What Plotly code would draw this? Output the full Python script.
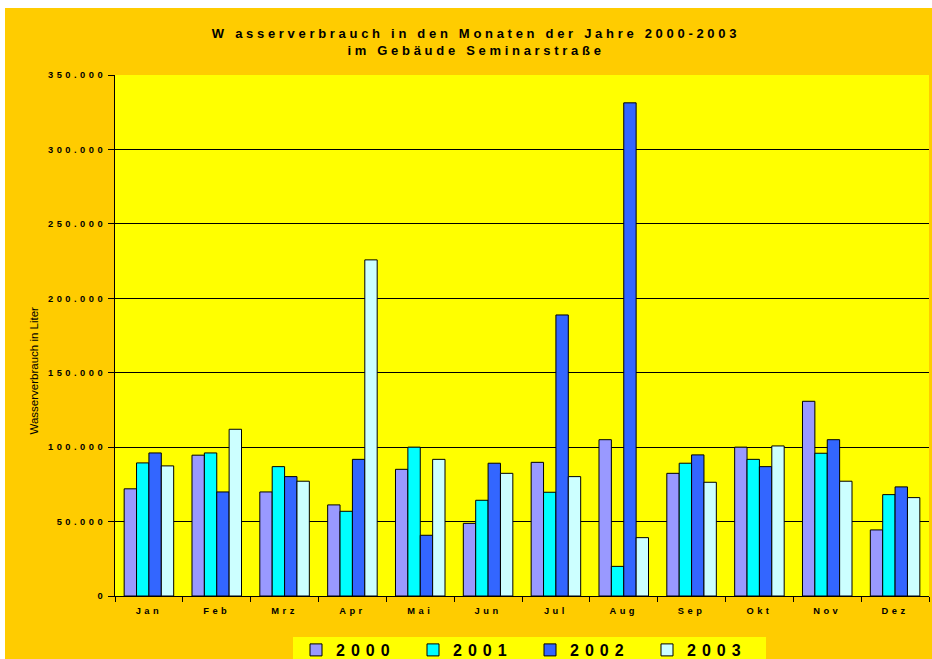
import plotly.graph_objects as go

months = ["Jan", "Feb", "Mrz", "Apr", "Mai", "Jun", "Jul", "Aug", "Sep", "Okt", "Nov", "Dez"]
years = ["2000", "2001", "2002", "2003"]
v2000 = [72000, 94600, 69900, 61200, 85100, 48800, 89800, 105000, 82400, 100000, 130800, 44400]
v2001 = [89400, 96100, 86900, 56900, 100000, 64300, 69700, 19900, 89200, 91800, 95900, 68100]
v2002 = [96100, 69900, 80200, 91800, 40800, 89200, 188800, 331300, 94800, 86900, 105000, 73300]
v2003 = [87400, 112000, 77100, 225800, 91800, 82400, 80200, 39200, 76400, 100800, 77100, 66100]
tick_vals = [0, 50000, 100000, 150000, 200000, 250000, 300000, 350000]
tick_text = ["0", "50.000", "100.000", "150.000", "200.000", "250.000", "300.000", "350.000"]

colors = ["#9999FF", "#00FFFF", "#3366FF", "#CCFFFF"]
series = [v2000, v2001, v2002, v2003]

FONT = "Liberation Sans, Arial, sans-serif"

fig = go.Figure()
for name, vals, col in zip(years, series, colors):
    fig.add_trace(go.Bar(
        x=months, y=vals, name=name,
        marker=dict(color=col, line=dict(color="black", width=1)),
    ))

# page offset of the figure (body margin) and figure size
OX, OY = 5, 8
W, H = 927, 651
ml, mr, mt, mb = 110, 3, 67, 63
pw, ph = W - ml - mr, H - mt - mb

# helpers: screen pixel -> paper coordinates
def px_x(p):
    return (p - OX - ml) / pw

def px_y(p):
    return (OY + H - mb - p) / ph

fig.update_layout(
    width=W, height=H,
    margin=dict(l=ml, r=mr, t=mt, b=mb, pad=0, autoexpand=False),
    paper_bgcolor="#FFCC00",
    plot_bgcolor="#FFFF00",
    barmode="group",
    bargap=0.27,
    bargroupgap=0.0,
    font=dict(family=FONT, color="black"),
    title=dict(
        text="<b>W asserverbrauch in den Monaten der Jahre 2000-2003<br>im Gebäude Seminarstraße</b>",
        x=(476 - OX) / W, xanchor="center",
        y=1 - 30 / H, yanchor="top",
        font=dict(size=13, family=FONT, color="black"),
    ),
    xaxis=dict(
        showline=True, linecolor="black", linewidth=1,
        ticks="outside", ticklen=5, tickcolor="black",
        tickson="boundaries",
        ticklabelstandoff=6,
        tickfont=dict(size=9.3, family=FONT, color="black", weight="bold"),
        showgrid=False,
    ),
    yaxis=dict(
        range=[0, 350000],
        tickvals=tick_vals, ticktext=tick_text,
        showline=True, linecolor="black", linewidth=1,
        ticks="outside", ticklen=6, tickcolor="black",
        tickfont=dict(size=9.3, family=FONT, color="black", weight="bold"),
        showgrid=True, gridcolor="black", gridwidth=1,
        zeroline=False,
    ),
    annotations=[dict(
        text="Wasserverbrauch in Liter", textangle=-90,
        xref="paper", yref="paper",
        x=px_x(33.5), y=px_y(371), xanchor="center", yanchor="middle",
        showarrow=False,
        font=dict(size=11.5, family=FONT, color="black"),
    )],
    shapes=[dict(
        type="rect", xref="paper", yref="paper", layer="below",
        x0=px_x(293), x1=px_x(766), y0=px_y(637), y1=px_y(665),
        fillcolor="#FFFF00", line=dict(width=0),
    )],
    legend=dict(
        orientation="h",
        x=px_x(296), xanchor="left",
        y=px_y(633), yanchor="top",
        bgcolor="rgba(0,0,0,0)",
        font=dict(size=16, family=FONT, color="black", weight="bold"),
        entrywidth=72, entrywidthmode="pixels",
        itemwidth=30,
        traceorder="normal",
    ),
)

post = """
document.body.style.margin = '8px 0 0 5px';
document.body.style.overflow = 'hidden';
var gd = document.getElementById('{plot_id}');
function ls(sel, v) { gd.querySelectorAll(sel).forEach(function (e) { e.style.letterSpacing = v; }); }
ls('.gtitle', '3.7px');
ls('.xtick text', '3.5px');
ls('.ytick text', '3.5px');
ls('.legendtext', '6px');
"""

fig.write_html("out.html", post_script=post)
